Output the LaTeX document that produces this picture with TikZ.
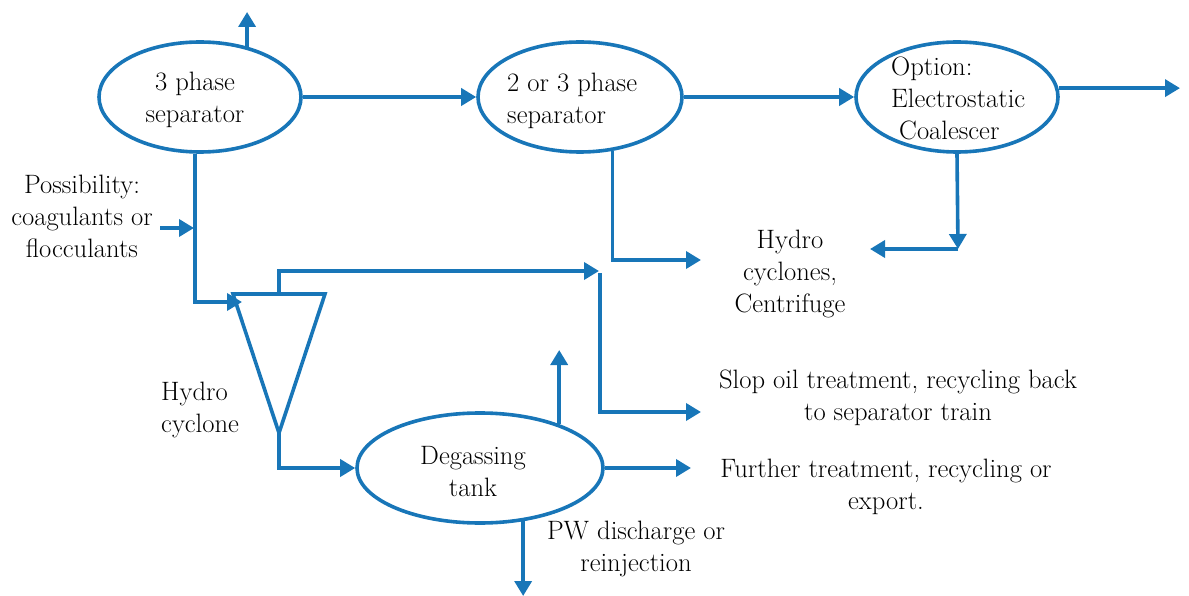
\documentclass[tikz,border=0pt]{standalone}
\usepackage{fontspec}
\usetikzlibrary{arrows.meta,shapes.geometric}
\definecolor{flow}{RGB}{24,118,184}
\tikzset{
  vessel/.style={ellipse,draw=flow,line width=3.6pt,inner sep=0pt},
  pipe/.style={draw=flow,line width=3.6pt},
  feed/.style={pipe,-{Triangle[length=15pt,width=17pt]}},
  txt/.style={inner sep=0pt,font=\fontsize{26.6}{32}\selectfont,align=center},
  ltxt/.style={txt,align=left,anchor=west}
}
\begin{document}
\begin{tikzpicture}[x=1pt,y=-1pt]
\useasboundingbox (0,0) rectangle (1189,596);

% vessels
\node[vessel,minimum width=202pt,minimum height=110pt] (sep1) at (200,97) {};
\node[vessel,minimum width=204pt,minimum height=110pt] (sep2) at (580,97) {};
\node[vessel,minimum width=202pt,minimum height=110pt] (coal) at (957,97) {};
\node[vessel,minimum width=246pt,minimum height=110pt] (tank) at (480,468) {};

% hydrocyclone cone
\coordinate (tl) at (233,294);
\coordinate (tr) at (325,294);
\coordinate (tip) at (279,433);
\draw[pipe,line join=miter] (tl) -- (tr) -- (tip) -- cycle;

% vessel labels
\node[txt] (t1) at (195,100) {3 phase\\separator};
\node[ltxt] (t2) at (507,101) {2 or 3 phase\\separator};
\node[ltxt] (t3) at (891,98) {Option:\\Electrostatic\\\ Coalescer};
\node[txt] (t4) at (473,472) {Degassing\\tank};

% stream labels
\node[txt] (poss) at (82,216) {Possibility:\\coagulants or\\flocculants};
\node[txt] (hcs) at (790,274) {Hydro\\cyclones,\\Centrifuge};
\node[ltxt] (hc) at (161,410) {Hydro\\cyclone};
\node[txt] (slop) at (898,398) {Slop oil treatment, recycling back\\to separator train};
\node[txt] (furt) at (886,487) {Further treatment, recycling or\\export.};
\node[txt] (pw) at (636,549) {PW discharge or\\reinjection};

% free ends and bends
\coordinate (gas1) at (245,12);
\coordinate (oil) at (1180,88);
\coordinate (c1) at (958,249);
\coordinate (c1end) at (870,249);
\coordinate (s2end) at (701,260);
\coordinate (cin) at (242,302);
\coordinate (chem) at (160,228);
\coordinate (chemend) at (194,228);
\coordinate (ctop) at (279,294);
\coordinate (rej) at (599,271);
\coordinate (jn) at (600,273);
\coordinate (slopend) at (701,412);
\coordinate (cbot) at (279,433);
\coordinate (gas2) at (557,350);
\coordinate (fend) at (691,468);
\coordinate (pwend) at (523,596);

% main train
\draw[feed] (sep1.47.4) -- (sep1.47.4 |- gas1);
\draw[feed] (sep1.east) -- (sep2.west);
\draw[feed] (sep2.east) -- (coal.west);
\draw[feed] (coal.5.75) -- (coal.5.75 -| oil);
\draw[feed] (coal.south) -- (c1);
\draw[feed] (c1) -- (c1end);
\draw[feed] (sep2.301.5) |- (s2end);

% water line to hydrocyclone
\draw[feed] (sep1.265) |- (cin);
\draw[feed] (chem) -- (chemend);
\draw[feed] (ctop) |- (rej);
\draw[feed] (jn) |- (slopend);

% degassing tank
\draw[feed] (cbot) |- (tank.west);
\draw[feed] (tank.29.1) -- (tank.29.1 |- gas2);
\draw[feed] (tank.east) -- (fend);
\draw[feed] (tank.309.9) -- (tank.309.9 |- pwend);
\end{tikzpicture}
\end{document}
